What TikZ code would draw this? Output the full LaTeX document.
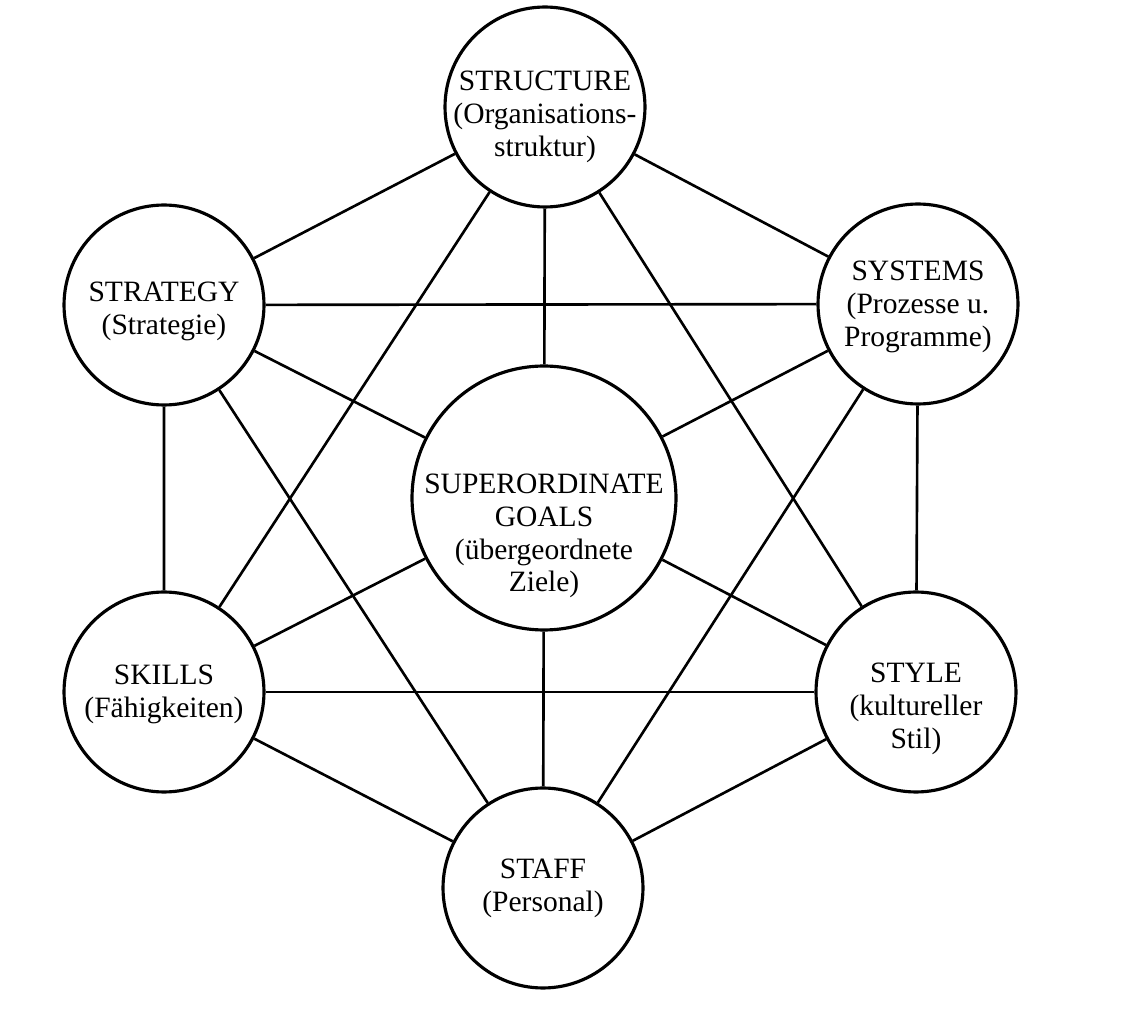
\documentclass[tikz,border=0pt]{standalone}
\usepackage{fontspec}
\setmainfont{Liberation Serif}
\usepackage{tikz}

\begin{document}
\begin{tikzpicture}[x=0.02cm, y=-0.02cm,
    ring/.style={circle, draw, line width=1.8pt, minimum size=4cm, inner sep=0pt},
    txt/.style={align=center, font=\fontsize{16.8}{18.7}\selectfont},
    link/.style={line width=1.5pt}]
  \useasboundingbox (0,0) rectangle (1134,1016);
  % the seven circles
  \node[ring] (structure) at (545,107) {};
  \node[ring] (strategy) at (164,305) {};
  \node[ring] (systems) at (918,304) {};
  \node[ring, minimum size=5.28cm] (goals) at (544,498) {};
  \node[ring] (skills) at (164,692) {};
  \node[ring] (style) at (916,692) {};
  \node[ring] (staff) at (543,888) {};
  % texts
  \node[txt] (structure-t) at (545,117) {STRUCTURE\\(Organisations-\\struktur)};
  \node[txt] (strategy-t) at (164,311) {STRATEGY\\(Strategie)};
  \node[txt] (systems-t) at (918,307) {SYSTEMS\\(Prozesse u.\\Programme)};
  \node[txt] (goals-t) at (544,536) {SUPERORDINATE\\GOALS\\(übergeordnete\\Ziele)};
  \node[txt] (skills-t) at (164,694) {SKILLS\\(Fähigkeiten)};
  \node[txt] (style-t) at (916,709) {STYLE\\(kultureller\\Stil)};
  \node[txt] (staff-t) at (543,888) {STAFF\\(Personal)};
  % hexagon
  \draw[link] (structure) -- (systems) -- (style) -- (staff) -- (skills) -- (strategy) -- (structure);
  % diagonals
  \draw[link] (structure) -- (style);
  \draw[link] (systems) -- (staff);
  \draw[link] (style) -- (skills);
  \draw[link] (staff) -- (strategy);
  \draw[link] (skills) -- (structure);
  \draw[link] (strategy) -- (systems);
  % spokes
  \foreach \n in {structure, strategy, systems, skills, style, staff}
    \draw[link] (goals) -- (\n);
\end{tikzpicture}
\end{document}
